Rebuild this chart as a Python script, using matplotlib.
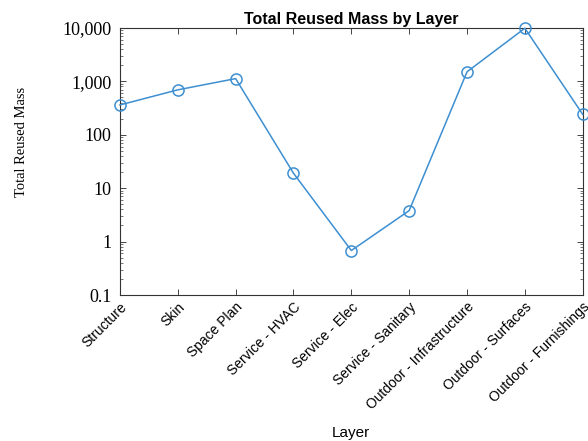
import numpy as np
import matplotlib.pyplot as plt
from matplotlib.ticker import FuncFormatter, LogLocator, NullFormatter
from matplotlib.transforms import ScaledTranslation

# data
layers = ['Structure', 'Skin', 'Space Plan', 'Service - HVAC', 'Service - Elec',
          'Service - Sanitary', 'Outdoor - Infrastructure', 'Outdoor - Surfaces',
          'Outdoor - Furnishings']
mass = [360, 690, 1120, 19, 0.68, 3.8, 1500, 9800, 240]

fig = plt.figure(figsize=(5.88, 4.41), dpi=100)
ax = fig.add_axes([0.204, 0.331, 0.787, 0.606])

x = np.arange(len(layers))
ax.plot(x, mass, color='#3d8fd1', lw=1.1, marker='o', ms=8,
        mfc='none', mec='#3d8fd1', mew=1.1, clip_on=False, zorder=3)

ax.set_yscale('log')
ax.set_ylim(0.1, 10000)
ax.set_xlim(0, len(layers) - 1)

ax.yaxis.set_major_locator(LogLocator(base=10, numticks=10))
ax.yaxis.set_minor_locator(LogLocator(base=10, subs=np.arange(2, 10), numticks=10))
ax.yaxis.set_minor_formatter(NullFormatter())
ax.yaxis.set_major_formatter(FuncFormatter(lambda v, p: f'{v:,.0f}' if v >= 1 else f'{v:g}'))

ax.set_xticks(x)
ax.set_xticklabels(layers, rotation=45, ha='right', rotation_mode='anchor',
                   fontsize=10, family='Liberation Sans')
# nudge rotated labels so they end just right of the tick
shift = ScaledTranslation(7 / 72, -7 / 72, fig.dpi_scale_trans)
for lab in ax.get_xticklabels():
    lab.set_transform(lab.get_transform() + shift)

ax.tick_params(which='both', direction='in', top=True, right=True, color='#444444')
ax.tick_params(which='major', length=4, width=0.7)
ax.tick_params(which='minor', length=2, width=0.5)
ax.tick_params(axis='y', labelsize=13, pad=6)
for lab in ax.get_yticklabels():
    lab.set_family('Liberation Serif')

for s in ax.spines.values():
    s.set_color('#333333')
    s.set_linewidth(0.8)

ax.set_title('Total Reused Mass by Layer', fontsize=11.5, fontweight='bold',
             family='Liberation Sans', pad=3)
ax.set_xlabel('Layer', fontsize=11, family='Liberation Sans', va='center')
ax.xaxis.set_label_coords(0.5, -0.515)
ax.set_ylabel('Total Reused Mass', fontsize=10.5, family='Liberation Serif')
ax.yaxis.set_label_coords(-0.198, 0.573)

fig.savefig('out.png', dpi=100)
